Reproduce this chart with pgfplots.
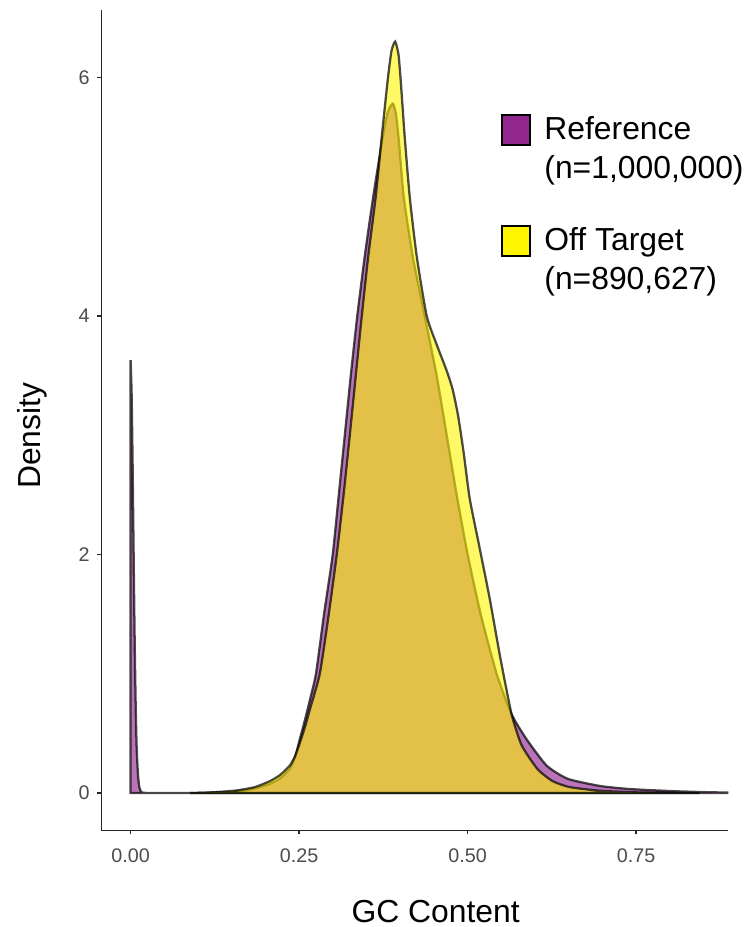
\documentclass[border=0pt]{standalone}
\usepackage{fontspec}
\setmainfont{Liberation Sans}
\usepackage{pgfplots}
\pgfplotsset{compat=1.18}
\definecolor{refpurple}{RGB}{146,38,143}
\definecolor{offyellow}{RGB}{255,245,0}
\definecolor{outl}{RGB}{0,0,0}

\begin{document}
\begin{tikzpicture}
\begin{axis}[
  at={(0,0)}, anchor=south west,
  scale only axis, width=470.625pt, height=615.75pt,
  xmin=-0.0433, xmax=0.887, ymin=-0.3125, ymax=6.565,
  axis x line*=bottom, axis y line*=left,
  axis line style={black!85, line width=1.1pt},
  xtick={0,0.25,0.5,0.75}, xticklabels={0.00,0.25,0.50,0.75},
  ytick={0,2,4,6}, yticklabels={0,2,4,6},
  tick align=outside, major tick length=3pt,
  tick style={black!85, line width=1.1pt},
  tick label style={font=\fontsize{14.8}{17}\selectfont, text=black!70},
  xticklabel style={anchor=center, yshift=-16pt, inner sep=0pt},
  yticklabel style={anchor=east, inner sep=0pt, xshift=-5.6pt},
  xlabel={GC Content}, ylabel={Density},
  every axis x label/.style={at={(axis description cs:0.533,0)}, anchor=center, yshift=-60.75pt, font=\fontsize{23.9}{28}\selectfont},
  every axis y label/.style={at={(axis description cs:0,0.481)}, anchor=center, xshift=-52pt, rotate=90, font=\fontsize{23.9}{28}\selectfont},
  legend style={at={(0.638,0.8729)}, anchor=north west, draw=none, fill=none, inner sep=0pt, outer sep=0pt,
    font=\fontsize{23.9}{29.3}\selectfont, row sep=33pt, column sep=9.75pt,
    nodes={align=left, inner sep=0pt, anchor=west}},
]
\addplot[smooth, tension=0.35, fill=refpurple, fill opacity=0.64, draw=outl, draw opacity=0.7, line width=1.7pt,
  legend image code/.code={\draw[fill=refpurple, draw=black, line width=1.5pt, fill opacity=1, draw opacity=1] (0pt,2.6pt) rectangle (21pt,25.1pt);}]
table {
x y
0.0000 3.63
0.0015 3.35
0.0030 2.75
0.0045 2.00
0.0060 1.30
0.0075 0.75
0.0090 0.38
0.0110 0.15
0.0130 0.05
0.0155 0.012
0.0200 0.002
0.0500 0.001
0.0900 0.001
0.1030 0.002
0.1180 0.004
0.1470 0.010
0.1620 0.017
0.1770 0.030
0.1920 0.050
0.2070 0.078
0.2210 0.120
0.2360 0.200
0.2440 0.300
0.2510 0.450
0.2590 0.620
0.2660 0.780
0.2750 1.000
0.2870 1.500
0.2999 2.000
0.3089 2.500
0.3178 3.000
0.3267 3.500
0.3363 4.000
0.3474 4.500
0.3600 5.000
0.3741 5.500
0.3815 5.710
0.3889 5.780
0.3935 5.700
0.3975 5.500
0.4052 5.000
0.4186 4.500
0.4364 4.000
0.4541 3.500
0.4690 3.000
0.4838 2.500
0.5001 2.000
0.5194 1.500
0.5431 1.000
0.5653 0.660
0.5876 0.450
0.6173 0.230
0.6484 0.120
0.6959 0.060
0.7403 0.034
0.8012 0.017
0.8442 0.009
0.8870 0.004
} \closedcycle;
\addlegendentry{Reference\\(n=1,000,000)}

\addplot[smooth, tension=0.35, fill=offyellow, fill opacity=0.6, draw=outl, draw opacity=0.7, line width=1.7pt,
  legend image code/.code={\draw[fill=offyellow, draw=black, line width=1.5pt, fill opacity=1, draw opacity=1] (0pt,2.6pt) rectangle (21pt,25.1pt);}]
table {
x y
0.0880 0.000
0.1176 0.005
0.1547 0.020
0.1843 0.050
0.2066 0.100
0.2214 0.150
0.2362 0.230
0.2440 0.310
0.2510 0.420
0.2590 0.560
0.2659 0.700
0.2807 1.000
0.2940 1.500
0.3059 2.000
0.3160 2.500
0.3252 3.000
0.3341 3.500
0.3430 4.000
0.3526 4.500
0.3637 5.000
0.3726 5.500
0.3815 5.980
0.3870 6.220
0.3926 6.300
0.3975 6.190
0.4008 5.970
0.4067 5.500
0.4141 5.000
0.4245 4.500
0.4393 4.000
0.4541 3.760
0.4690 3.540
0.4780 3.380
0.4860 3.160
0.4940 2.860
0.5031 2.470
0.5180 2.050
0.5328 1.630
0.5490 1.120
0.5653 0.660
0.5802 0.400
0.6039 0.200
0.6262 0.100
0.6514 0.050
0.6959 0.020
0.7552 0.005
0.8442 0.000
} \closedcycle;
\addlegendentry{Off Target\\(n=890,627)}
\end{axis}
\path[use as bounding box] (-76.125pt,-72pt) rectangle (484.125pt,623.25pt);
\end{tikzpicture}
\end{document}
